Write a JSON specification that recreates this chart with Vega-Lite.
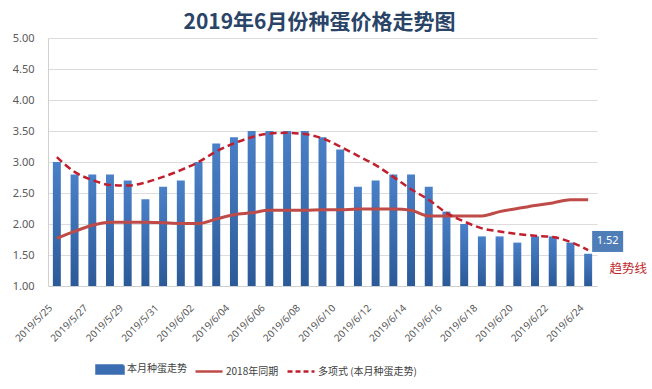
{
  "$schema": "https://vega.github.io/schema/vega-lite/v6.json",
  "width": 549,
  "height": 248,
  "autosize": {"type": "none"},
  "padding": {"left": 48, "top": 38, "right": 55, "bottom": 103},
  "background": "white",
  "title": {
    "text": "2019年6月份种蛋价格走势图",
    "fontSize": 21,
    "fontWeight": "bold",
    "font": "Noto Sans CJK SC",
    "color": "#2A4467",
    "anchor": "middle",
    "baseline": "middle",
    "offset": 0,
    "dx": -3,
    "dy": 12
  },
  "config": {
    "view": {"stroke": null},
    "font": "Noto Sans CJK SC",
    "axisY": {
      "title": null,
      "format": ".2f",
      "labelFontSize": 11,
      "labelFont": "Noto Sans",
      "labelColor": "#595959",
      "labelPadding": 14,
      "ticks": false,
      "domainColor": "#D0D0D0",
      "gridColor": "#DCDCDC",
      "gridWidth": 1
    }
  },
  "data": {
    "values": [
      {"date": "2019/5/25", "price": 3.0, "y2018": 1.77, "trend": 3.08},
      {"date": "2019/5/26", "price": 2.8, "y2018": 1.88, "trend": 2.84},
      {"date": "2019/5/27", "price": 2.8, "y2018": 1.98, "trend": 2.71},
      {"date": "2019/5/28", "price": 2.8, "y2018": 2.03, "trend": 2.63},
      {"date": "2019/5/29", "price": 2.7, "y2018": 2.03, "trend": 2.62},
      {"date": "2019/5/30", "price": 2.4, "y2018": 2.03, "trend": 2.67},
      {"date": "2019/5/31", "price": 2.6, "y2018": 2.02, "trend": 2.76},
      {"date": "2019/6/01", "price": 2.7, "y2018": 2.01, "trend": 2.87},
      {"date": "2019/6/02", "price": 3.0, "y2018": 2.01, "trend": 3.0},
      {"date": "2019/6/03", "price": 3.3, "y2018": 2.08, "trend": 3.17},
      {"date": "2019/6/04", "price": 3.4, "y2018": 2.15, "trend": 3.3},
      {"date": "2019/6/05", "price": 3.5, "y2018": 2.18, "trend": 3.4},
      {"date": "2019/6/06", "price": 3.5, "y2018": 2.22, "trend": 3.46},
      {"date": "2019/6/07", "price": 3.5, "y2018": 2.22, "trend": 3.47},
      {"date": "2019/6/08", "price": 3.5, "y2018": 2.22, "trend": 3.45},
      {"date": "2019/6/09", "price": 3.4, "y2018": 2.23, "trend": 3.38},
      {"date": "2019/6/10", "price": 3.2, "y2018": 2.23, "trend": 3.25},
      {"date": "2019/6/11", "price": 2.6, "y2018": 2.24, "trend": 3.1},
      {"date": "2019/6/12", "price": 2.7, "y2018": 2.24, "trend": 2.95},
      {"date": "2019/6/13", "price": 2.8, "y2018": 2.24, "trend": 2.76},
      {"date": "2019/6/14", "price": 2.8, "y2018": 2.22, "trend": 2.56},
      {"date": "2019/6/15", "price": 2.6, "y2018": 2.13, "trend": 2.39},
      {"date": "2019/6/16", "price": 2.2, "y2018": 2.13, "trend": 2.18},
      {"date": "2019/6/17", "price": 2.0, "y2018": 2.13, "trend": 2.04},
      {"date": "2019/6/18", "price": 1.8, "y2018": 2.13, "trend": 1.93},
      {"date": "2019/6/19", "price": 1.8, "y2018": 2.2, "trend": 1.88},
      {"date": "2019/6/20", "price": 1.7, "y2018": 2.25, "trend": 1.84},
      {"date": "2019/6/21", "price": 1.8, "y2018": 2.3, "trend": 1.81},
      {"date": "2019/6/22", "price": 1.8, "y2018": 2.34, "trend": 1.79},
      {"date": "2019/6/23", "price": 1.7, "y2018": 2.39, "trend": 1.71},
      {"date": "2019/6/24", "price": 1.52, "y2018": 2.39, "trend": 1.58}
    ]
  },
  "encoding": {
    "x": {
      "field": "date",
      "type": "ordinal",
      "sort": null,
      "scale": {"paddingInner": 0.55, "paddingOuter": 0.275},
      "axis": {
        "title": null,
        "values": ["2019/5/25","2019/5/27","2019/5/29","2019/5/31","2019/6/02","2019/6/04","2019/6/06","2019/6/08","2019/6/10","2019/6/12","2019/6/14","2019/6/16","2019/6/18","2019/6/20","2019/6/22","2019/6/24"],
        "labelAngle": -45,
        "labelAlign": "right",
        "labelBaseline": "middle",
        "labelFontSize": 10,
        "labelFont": "Noto Sans",
        "labelColor": "#595959",
        "labelPadding": 20,
        "labelOffset": -6,
        "ticks": false,
        "domainColor": "#D0D0D0",
        "grid": false
      }
    }
  },
  "layer": [
    {
      "mark": {
        "type": "bar",
        "fill": {"gradient": "linear", "x1": 0, "y1": 0, "x2": 0, "y2": 1, "stops": [{"offset": 0, "color": "#4A80C8"}, {"offset": 1, "color": "#2C5A98"}]}
      },
      "encoding": {
        "y": {
          "field": "price",
          "type": "quantitative",
          "scale": {"domain": [1, 5], "zero": false, "nice": false},
          "axis": {"values": [1, 1.5, 2, 2.5, 3, 3.5, 4, 4.5, 5]}
        },
        "y2": {"datum": 1}
      }
    },
    {
      "mark": {"type": "line", "strokeWidth": 3, "interpolate": "monotone"},
      "encoding": {
        "y": {"field": "y2018", "type": "quantitative", "axis": {"values": [1, 1.5, 2, 2.5, 3, 3.5, 4, 4.5, 5]}},
        "color": {
          "datum": "2018年同期",
          "scale": {
            "domain": ["本月种蛋走势", "2018年同期", "多项式 (本月种蛋走势)"],
            "range": ["#3B6DB3", "#BE4B48", "#C0202E"]
          },
          "legend": {
            "orient": "none",
            "legendX": 47,
            "legendY": 316,
            "direction": "horizontal",
            "title": null,
            "padding": 0,
            "symbolSize": 729,
            "symbolType": "stroke",
            "symbolStrokeWidth": 2.5,
            "labelFontSize": 10,
            "labelFont": "Noto Sans CJK SC",
            "labelColor": "#404040",
            "labelOffset": 2,
            "columnPadding": 3,
            "encode": {
              "symbols": {
                "update": {
                  "shape": {"signal": "datum.value === '本月种蛋走势' ? 'M-1,-0.3H1V0.3H-1Z' : 'stroke'"},
                  "fill": {"signal": "datum.value === '本月种蛋走势' ? '#3B6DB3' : 'transparent'"},
                  "stroke": {"signal": "datum.value === '本月种蛋走势' ? 'transparent' : (datum.value === '2018年同期' ? '#BE4B48' : '#C0202E')"},
                  "strokeWidth": {"value": 2.5},
                  "strokeDash": {"signal": "datum.value === '多项式 (本月种蛋走势)' ? [5, 3] : [1, 0]"}
                }
              }
            }
          }
        }
      }
    },
    {
      "mark": {"type": "line", "strokeWidth": 2.5, "strokeDash": [7, 4], "interpolate": "monotone"},
      "encoding": {
        "y": {"field": "trend", "type": "quantitative", "axis": {"values": [1, 1.5, 2, 2.5, 3, 3.5, 4, 4.5, 5]}},
        "color": {"datum": "多项式 (本月种蛋走势)"}
      }
    },
    {
      "transform": [{"filter": "datum.date === '2019/6/24'"}],
      "mark": {"type": "point", "shape": "M0.4,-2.28H3.5V-0.18H0.4Z", "size": 400, "filled": true, "fill": "#4F7DB8", "opacity": 1, "strokeWidth": 0},
      "encoding": {
        "y": {"field": "price", "type": "quantitative", "axis": {"values": [1, 1.5, 2, 2.5, 3, 3.5, 4, 4.5, 5]}}
      }
    },
    {
      "transform": [{"filter": "datum.date === '2019/6/24'"}],
      "mark": {"type": "text", "dx": 19.5, "dy": -12.3, "align": "center", "baseline": "middle", "color": "white", "fontSize": 11, "font": "Noto Sans"},
      "encoding": {
        "y": {"field": "price", "type": "quantitative", "axis": {"values": [1, 1.5, 2, 2.5, 3, 3.5, 4, 4.5, 5]}},
        "text": {"field": "price", "type": "quantitative", "format": ".2f"}
      }
    },
    {
      "transform": [{"filter": "datum.date === '2019/6/24'"}],
      "mark": {"type": "text", "dx": 40, "dy": 15, "align": "center", "baseline": "middle", "color": "#C0282D", "fontSize": 12.5, "font": "Noto Sans CJK SC", "text": "趋势线"},
      "encoding": {
        "y": {"field": "price", "type": "quantitative", "axis": {"values": [1, 1.5, 2, 2.5, 3, 3.5, 4, 4.5, 5]}}
      }
    }
  ]
}
